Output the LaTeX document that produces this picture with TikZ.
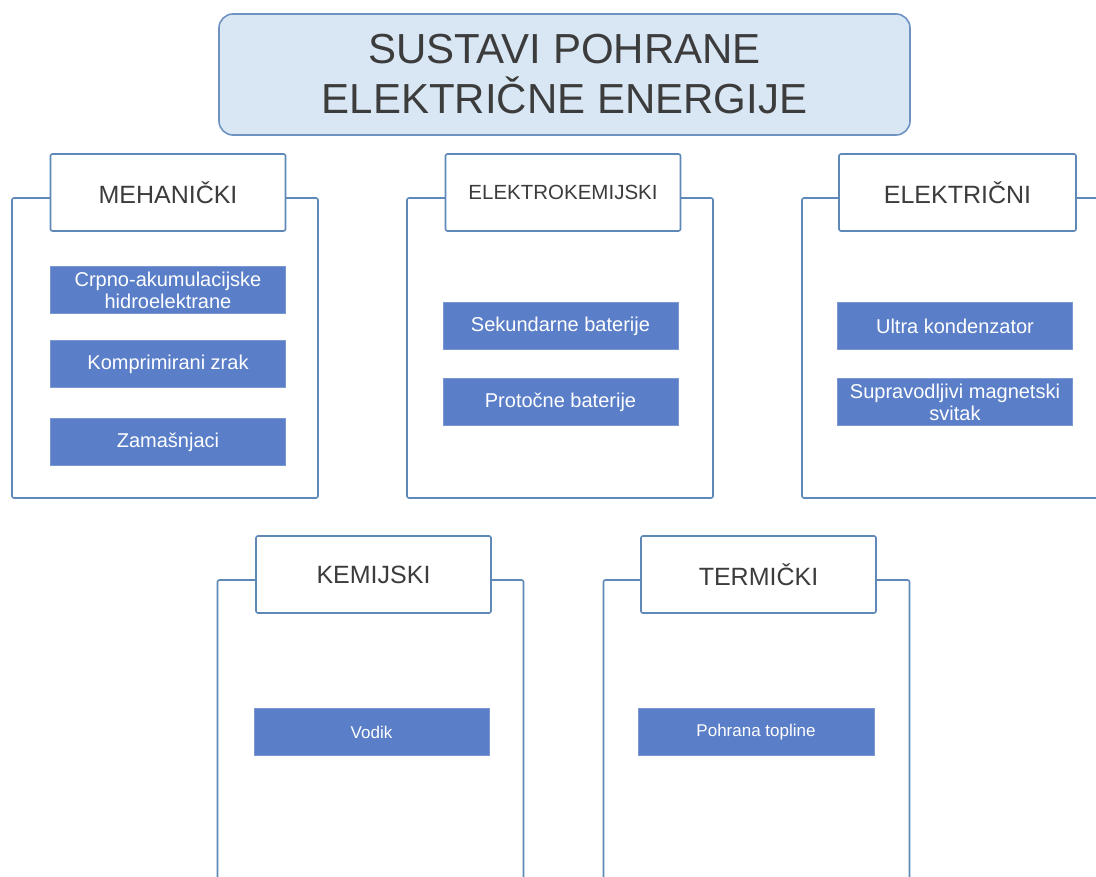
\documentclass[tikz,border=0pt]{standalone}
\usepackage{fontspec}
\setmainfont{Liberation Sans}
\definecolor{framec}{HTML}{5E88B6}
\definecolor{titlefill}{HTML}{D9E7F5}
\definecolor{titledraw}{HTML}{6E93C0}
\definecolor{itemfill}{HTML}{5A7EC8}
\definecolor{txt}{HTML}{3C3C3C}
\tikzset{
  mainbox/.style={draw=titledraw, fill=titlefill, line width=1.6pt, rounded corners=14pt,
    minimum width=691pt, minimum height=121pt, inner sep=0pt, align=center, text=txt,
    font=\fontsize{42}{50}\selectfont},
  groupframe/.style={draw=framec, line width=1.6pt, rounded corners=2pt, minimum width=306pt,
    minimum height=300pt, inner sep=0pt},
  grouptitle/.style={draw=framec, fill=white, line width=1.6pt, rounded corners=2pt,
    minimum width=235pt, minimum height=77pt, inner sep=0pt, text=txt,
    font=\fontsize{25}{30}\selectfont},
  itembox/.style={fill=itemfill, draw=itemfill!80!white, line width=0.6pt, minimum width=235pt,
    minimum height=47pt, inner sep=0pt, align=center, text=white,
    font=\fontsize{20}{22}\selectfont},
  smallitem/.style={itembox, font=\fontsize{17}{20}\selectfont}
}
\begin{document}
\begin{tikzpicture}[x=1pt,y=-1pt]
\useasboundingbox (0,0) rectangle (1096,877);
\clip (0,0) rectangle (1096,877);
\fill[white] (0,0) rectangle (1096,877);

\node[mainbox] (main) at (564.5,74.5) {SUSTAVI POHRANE\\ELEKTRIČNE ENERGIJE};

% Group 1
\node[groupframe] (f1) at (165,348) {};
\node[grouptitle] (t1) at (168,192.5) {MEHANIČKI};
\node[itembox] (i11) at (168,290) {Crpno-akumulacijske\\hidroelektrane};
\node[itembox] (i12) at (168,364) {Komprimirani zrak};
\node[itembox] (i13) at (168,442) {Zamašnjaci};

% Group 2
\node[groupframe] (f2) at (560,348) {};
\node[grouptitle, font=\fontsize{20.5}{24}\selectfont] (t2) at (563,192.5) {ELEKTROKEMIJSKI};
\node[itembox] (i21) at (560.5,326) {Sekundarne baterije};
\node[itembox] (i22) at (560.5,402) {Protočne baterije};

% Group 3
\node[groupframe] (f3) at (955,348) {};
\node[grouptitle, minimum width=237pt] (t3) at (957.5,192.5) {ELEKTRIČNI};
\node[itembox] (i31) at (955,326) {Ultra kondenzator};
\node[itembox] (i32) at (955,402) {Supravodljivi magnetski\\svitak};

% Group 4
\node[groupframe] (f4) at (370.5,730) {};
\node[grouptitle] (t4) at (373.5,574.5) {KEMIJSKI};
\node[smallitem] (i41) at (371.5,732) {Vodik};

% Group 5
\node[groupframe] (f5) at (756.5,730) {};
\node[grouptitle] (t5) at (758.5,574.5) {TERMIČKI};
\node[smallitem, minimum width=236pt] (i51) at (756,732) {Pohrana topline};
\end{tikzpicture}
\end{document}
